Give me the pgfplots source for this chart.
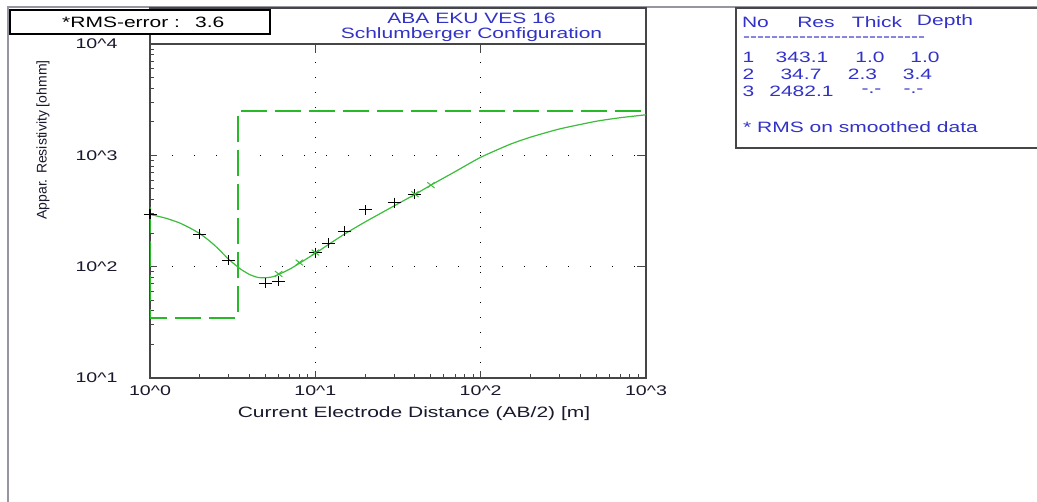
\documentclass[border=0pt]{standalone}
\usepackage{pgfplots}
\pgfplotsset{compat=1.18}
\usepackage{fontspec}
\setmainfont{Liberation Sans}[FakeStretch=1.4]
\newfontfamily\plainsans{Liberation Sans}
\newfontfamily\tabfont{Liberation Sans}[FakeStretch=1.4, Ligatures=TeXOff]
\definecolor{tblue}{RGB}{50,50,200}
\definecolor{gline}{RGB}{60,190,60}
\definecolor{gdash}{RGB}{40,185,40}
\definecolor{frame}{RGB}{70,70,70}
\definecolor{txt}{RGB}{25,25,45}
\definecolor{panel}{RGB}{150,150,160}
\newcommand\fs{\fontsize{15bp}{17bp}\selectfont}
\newcommand\fst{\fontsize{14bp}{16bp}\selectfont}
\begin{document}
\begin{tikzpicture}[x=1bp,y=1bp]
\useasboundingbox (0,0) rectangle (1037,502);
\fill[white] (0,0) rectangle (1037,502);
\draw[line width=1.2bp, panel] (8,0) -- (8,495) -- (1037,495);
\draw[frame, line width=2bp] (150,458) -- (150,494) -- (646,494) -- (646,458);
\begin{axis}[
  at={(150bp,124bp)}, anchor=south west,
  width=496bp, height=334bp, scale only axis,
  xmode=log, ymode=log,
  xmin=1, xmax=1000, ymin=10, ymax=10000,
  axis line style={frame, line width=2bp},
  xtick={1,10,100,1000},
  xticklabels={10\textasciicircum0,10\textasciicircum1,10\textasciicircum2,10\textasciicircum3},
  ytick={10,100,1000,10000},
  yticklabels={10\textasciicircum1,10\textasciicircum2,10\textasciicircum3,10\textasciicircum4},
  tick pos=left, tick align=inside,
  major tick length=7bp, minor tick length=4bp,
  tick style={frame, line width=1bp},
  xmajorgrids, ymajorgrids,
  x grid style={black, line width=1.3bp, dash pattern=on 1.3bp off 13.7bp},
  y grid style={black, line width=1.3bp, dash pattern=on 1.3bp off 20.7bp},
  ticklabel style={font=\fst, text=txt},
  xticklabel style={yshift=-4bp},
  yticklabel style={xshift=-29bp},
  clip mode=individual,
]
\addplot[gdash, line width=2bp, dash pattern=on 26bp off 8bp] coordinates {(1,343.1) (1,34.7) (3.4,34.7) (3.4,2482.1) (1000,2482.1)};
\addplot[gline, line width=1.2bp, smooth, tension=0.35] coordinates {(1,295) (1.25,272) (1.5,248) (1.75,222) (2,198) (2.25,174) (2.5,152) (2.75,132) (3,116) (3.5,96) (4,85) (4.5,80) (5,79.5) (5.5,81) (6,85) (7,95) (8,107) (10,132) (12,158) (15,196) (20,252) (30,352) (40,445) (50,540) (70,713) (100,960) (150,1253) (200,1455) (300,1726) (500,2023) (700,2178) (1000,2312)};
\addplot[only marks, mark=+, mark size=5bp, black, mark options={line width=1.2bp, xscale=1.3}] coordinates {(1,295) (2,196) (3,114) (5,71) (6,74) (10,134) (12,162) (15,207) (20,324) (30,377) (40,448)};
\addplot[only marks, mark=x, mark size=4bp, gline, mark options={line width=1bp, xscale=1.3}] coordinates {(6,86) (8,109) (10,134) (40,448) (50,540)};
\end{axis}
\begin{axis}[
  at={(150bp,124bp)}, anchor=south west,
  width=496bp, height=334bp, scale only axis,
  xmode=log, ymode=log,
  xmin=1, xmax=1000, ymin=10, ymax=10000,
  axis line style={draw=none},
  xtick={10,100}, ytick={100,1000},
  xticklabels={}, yticklabels={},
  xminorticks=false, yminorticks=false,
  tick pos=right, tick align=inside,
  major tick length=9bp,
  tick style={frame, line width=1bp},
]
\end{axis}
% axis label and titles
\node[font=\fs, text=txt] at (414,88) {Current Electrode Distance (AB/2) [m]};
\node[rotate=90, font=\plainsans\fst, text=txt] at (43,362) {Appar. Resistivity [ohmm]};
\node[font=\fs, text=tblue] at (471.5,484) {ABA EKU VES 16};
\node[font=\fs, text=tblue] at (471.5,467) {Schlumberger Configuration};
% RMS box
\draw[black, line width=1.5bp, fill=white] (10,468) rectangle (270,492);
\node[font=\fs, text=black, anchor=west, inner sep=0pt] at (62,480) {*RMS-error :};
\node[font=\fs, text=black, anchor=west, inner sep=0pt] at (195,480) {3.6};
% table box
\draw[frame, line width=1.5bp, fill=white] (736,354) rectangle (1045,494);
\begin{scope}[every node/.style={font=\fs, text=tblue, inner sep=0pt}]
\node at (755.5,480) {No};
\node at (816,480) {Res};
\node at (877,480) {Thick};
\node at (945,480) {Depth};
\node[font=\tabfont\fs, anchor=west] at (743,463) {--------------------------};
\node at (748.5,445) {1}; \node at (802,445) {343.1}; \node at (870,445) {1.0}; \node at (925,445) {1.0};
\node at (748.5,428) {2}; \node at (801,428) {34.7}; \node at (862.5,428) {2.3}; \node at (917.5,428) {3.4};
\node at (748.5,411) {3}; \node at (801.5,411) {2482.1}; \node at (871.5,411) {-.-}; \node at (913.5,411) {-.-};
\node[anchor=west] at (743,375) {* RMS on smoothed data};
\end{scope}
\end{tikzpicture}
\end{document}
